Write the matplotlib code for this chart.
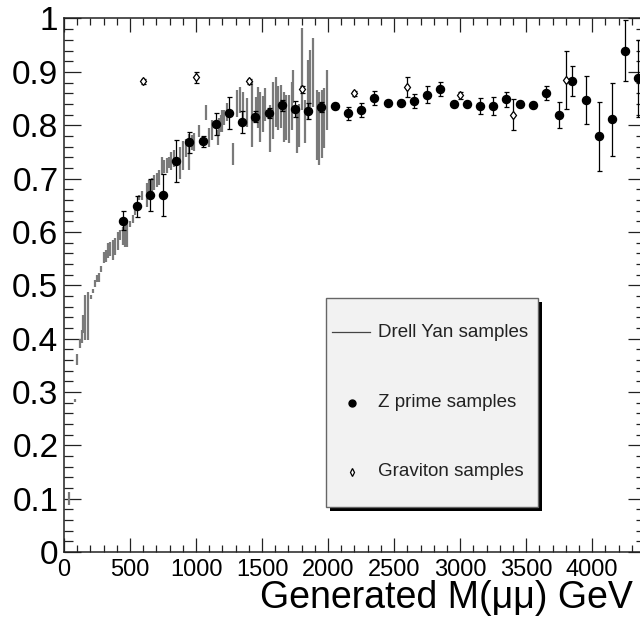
"""Muon reconstruction efficiency vs generated dimuon mass (DY, Z', graviton)."""

import matplotlib
matplotlib.use("Agg")
import matplotlib.pyplot as plt
from matplotlib.lines import Line2D
from matplotlib.patches import Rectangle
from matplotlib.ticker import MultipleLocator

plt.rcParams["font.family"] = ["Liberation Sans", "DejaVu Sans"]

# Drell Yan samples: drawn as bare vertical error bars
dy_mass = [40, 80, 100, 120, 135, 145, 162, 180, 205, 220, 237, 250, 265, 283,
           300, 318, 336, 351, 369, 385, 407, 425, 445, 462, 480, 500, 520, 540,
           566, 588, 626, 644, 664, 682, 702, 722, 742, 760, 778, 795, 813, 833,
           879, 899, 924, 945, 967, 985, 1023, 1072, 1099, 1124, 1164, 1174,
           1189, 1197, 1215, 1235, 1283, 1308, 1336, 1359, 1384, 1422, 1455,
           1467, 1485, 1505, 1525, 1561, 1586, 1606, 1624, 1644, 1667, 1682,
           1705, 1725, 1737, 1763, 1780, 1805, 1826, 1846, 1864, 1884, 1914,
           1932, 1952, 1970, 1990]
dy_eff = [0.100, 0.284, 0.361, 0.391, 0.404, 0.427, 0.440, 0.443, 0.478, 0.489,
          0.503, 0.513, 0.515, 0.530, 0.552, 0.555, 0.565, 0.568, 0.566, 0.572,
          0.583, 0.594, 0.593, 0.594, 0.597, 0.615, 0.624, 0.640, 0.664, 0.668,
          0.669, 0.685, 0.688, 0.693, 0.697, 0.702, 0.724, 0.722, 0.724, 0.730,
          0.733, 0.738, 0.730, 0.743, 0.758, 0.750, 0.768, 0.768, 0.789, 0.824,
          0.777, 0.791, 0.777, 0.796, 0.803, 0.808, 0.814, 0.824, 0.746, 0.841,
          0.847, 0.838, 0.824, 0.821, 0.830, 0.833, 0.816, 0.821, 0.838, 0.794,
          0.828, 0.844, 0.832, 0.835, 0.816, 0.814, 0.811, 0.836, 0.872, 0.788,
          0.800, 0.905, 0.807, 0.866, 0.888, 0.899, 0.800, 0.794, 0.802, 0.813,
          0.847]
dy_err = [0.012, 0.003, 0.010, 0.009, 0.012, 0.017, 0.042, 0.045, 0.004, 0.004,
          0.006, 0.006, 0.008, 0.006, 0.011, 0.011, 0.014, 0.014, 0.019, 0.016,
          0.017, 0.009, 0.017, 0.022, 0.025, 0.005, 0.008, 0.008, 0.005, 0.008,
          0.022, 0.013, 0.013, 0.014, 0.013, 0.014, 0.017, 0.012, 0.014, 0.011,
          0.017, 0.016, 0.030, 0.027, 0.017, 0.034, 0.014, 0.017, 0.011, 0.014,
          0.017, 0.019, 0.014, 0.017, 0.016, 0.020, 0.014, 0.017, 0.020, 0.025,
          0.025, 0.025, 0.027, 0.061, 0.023, 0.039, 0.047, 0.033, 0.031, 0.044,
          0.053, 0.047, 0.041, 0.041, 0.047, 0.042, 0.045, 0.045, 0.031, 0.041,
          0.040, 0.077, 0.040, 0.056, 0.053, 0.064, 0.066, 0.069, 0.064, 0.056,
          0.056]

# Z prime samples
zp_mass = [450, 550, 650, 750, 850, 950, 1050, 1150, 1250, 1350,
           1450, 1550, 1650, 1750, 1850, 1950, 2050, 2150, 2250, 2350,
           2450, 2550, 2650, 2750, 2850, 2950, 3050, 3150, 3250, 3350,
           3450, 3550, 3650, 3750, 3850, 3950, 4050, 4150, 4250, 4350]
zp_eff = [0.621, 0.648, 0.670, 0.669, 0.733, 0.768, 0.770, 0.802, 0.822, 0.806,
          0.816, 0.823, 0.837, 0.830, 0.827, 0.834, 0.836, 0.822, 0.829, 0.851,
          0.842, 0.842, 0.845, 0.857, 0.868, 0.840, 0.840, 0.836, 0.836, 0.849,
          0.840, 0.838, 0.860, 0.819, 0.883, 0.847, 0.779, 0.811, 0.940, 0.888]
zp_err = [0.018, 0.020, 0.030, 0.040, 0.040, 0.020, 0.010, 0.020, 0.030, 0.020,
          0.010, 0.010, 0.010, 0.015, 0.015, 0.010, 0.005, 0.013, 0.013, 0.013,
          0.005, 0.005, 0.013, 0.016, 0.013, 0.005, 0.005, 0.015, 0.017, 0.014,
          0.005, 0.005, 0.013, 0.025, 0.028, 0.045, 0.065, 0.069, 0.057, 0.072]

# Graviton samples
gr_mass = [600, 1000, 1400, 1800, 2200, 2600, 3000, 3400, 3800]
gr_eff = [0.882, 0.890, 0.882, 0.867, 0.860, 0.871, 0.856, 0.820, 0.885]
gr_err = [0.004, 0.010, 0.005, 0.006, 0.005, 0.019, 0.006, 0.029, 0.054]

fig = plt.figure(figsize=(6.4, 6.27), dpi=100)
# right edge of the frame lies just outside the picture, as in the original crop
ax = fig.add_axes([0.1, 0.1196, 0.9078, 0.8509])

ax.errorbar(dy_mass, dy_eff, yerr=dy_err, fmt="none", ecolor="#7a7a7a",
            elinewidth=1.6, capsize=0, zorder=2)
ax.errorbar(zp_mass, zp_eff, yerr=zp_err, fmt="o", color="black", ms=5.8,
            ecolor="black", elinewidth=0.9, capsize=1.8, capthick=0.9, zorder=3)
ax.errorbar(gr_mass, gr_eff, yerr=gr_err, fmt="d", mfc="white", mec="black",
            mew=0.9, ms=4.5, ecolor="black", elinewidth=0.9, capsize=1.8,
            capthick=0.9, zorder=4)

ax.set_xlim(0, 4400)
ax.set_ylim(0, 1)
ax.xaxis.set_major_locator(MultipleLocator(500))
ax.xaxis.set_minor_locator(MultipleLocator(100))
ax.yaxis.set_major_locator(MultipleLocator(0.1))
ax.yaxis.set_minor_locator(MultipleLocator(0.02))
ax.set_yticks([i / 10 for i in range(11)])
ax.set_yticklabels(["0", "0.1", "0.2", "0.3", "0.4", "0.5", "0.6", "0.7",
                    "0.8", "0.9", "1"])

ax.tick_params(axis="both", which="both", direction="in", top=True, right=True,
               width=0.9, color="#222222")
ax.tick_params(axis="x", which="major", length=10, labelsize=17, pad=5)
ax.tick_params(axis="x", which="minor", length=5)
ax.tick_params(axis="y", which="major", length=12, labelsize=24, pad=4)
ax.tick_params(axis="y", which="minor", length=6.5)
for sp in ax.spines.values():
    sp.set_linewidth(1.1)
    sp.set_color("#222222")

ax.set_xlabel("Generated M(\u03bc\u03bc) GeV", fontsize=27, ha="left", va="center")
ax.xaxis.set_label_coords(0.337, -0.0855)

# legend box with a drop shadow, ROOT style
box_x, box_y, box_w, box_h = 0.451, 0.084, 0.365, 0.392
shadow = Rectangle((box_x + 0.007, box_y - 0.008), box_w, box_h,
                   transform=ax.transAxes, facecolor="black", edgecolor="none",
                   zorder=5)
box = Rectangle((box_x, box_y), box_w, box_h, transform=ax.transAxes,
                facecolor="#f2f2f2", edgecolor="#666666", linewidth=1.0, zorder=6)
ax.add_patch(shadow)
ax.add_patch(box)

entry_y = [0.412, 0.280, 0.150]
ax.add_line(Line2D([0.462, 0.526], [entry_y[0]] * 2, transform=ax.transAxes,
                   color="#444444", linewidth=0.9, zorder=7))
ax.add_line(Line2D([0.496], [entry_y[1]], transform=ax.transAxes, marker="o",
                   ms=5, color="black", linestyle="none", zorder=7))
ax.add_line(Line2D([0.496], [entry_y[2]], transform=ax.transAxes, marker="d",
                   ms=4, mfc="white", mec="black", mew=0.9, linestyle="none",
                   zorder=7))
for y, label in zip(entry_y, ["Drell Yan samples", "Z prime samples",
                              "Graviton samples"]):
    ax.text(0.540, y, label, transform=ax.transAxes, fontsize=13.5,
            va="center", ha="left", color="#222222", zorder=7)

fig.savefig("out.png", dpi=100)
